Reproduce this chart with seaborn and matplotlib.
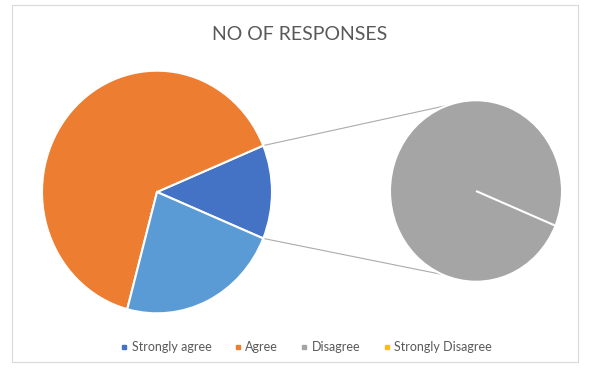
import matplotlib
matplotlib.use("Agg")
import matplotlib.pyplot as plt
import seaborn as sns
import numpy as np
from matplotlib.lines import Line2D
from matplotlib.patches import Rectangle

# ---- data ----
categories = ["Strongly agree", "Agree", "Disagree", "Strongly Disagree"]
responses = [6, 31, 11, 0]
colors = ["#4472C4", "#ED7D31", "#A5A5A5", "#FFC000"]
other_color = "#5B9BD5"
title = "NO OF RESPONSES"

sns.set_theme(style="white")
plt.rcParams['font.family'] = ['Lato', 'DejaVu Sans']

W, H = 589, 368
K = 1.055  # slight vertical stretch seen in the reference


def Y(ypx):
    return (H - ypx) / K


fig = plt.figure(figsize=(W / 100, H / 100), dpi=100)
ax = fig.add_axes([0, 0, 1, 1])

main_vals = responses[:2] + [sum(responses[2:])]
main_cols = colors[:2] + [other_color]
start = -22.5
c1 = (157, Y(192))
r1 = 115
c2 = (476, Y(191))
r2 = 86
wp = dict(edgecolor="white", linewidth=1.5)

ax.pie(main_vals, colors=main_cols, startangle=start, counterclock=True,
       center=c1, radius=r1, wedgeprops=wp, frame=True)
ax.pie(responses[2:], colors=colors[2:], startangle=start, counterclock=True,
       center=c2, radius=r2, wedgeprops=wp, frame=True)

# connector lines
frac = np.array(main_vals) / sum(main_vals)
a_top = np.deg2rad(start + 360 * frac[0])
a_bot = np.deg2rad(start)
s_top = np.deg2rad(109)
s_bot = np.deg2rad(-113)
for a, s in [(a_top, s_top), (a_bot, s_bot)]:
    ax.plot([c1[0] + r1 * np.cos(a), c2[0] + r2 * np.cos(s)],
            [c1[1] + r1 * np.sin(a), c2[1] + r2 * np.sin(s)],
            color="#ABABAB", lw=0.8, zorder=0)

ax.set_xlim(0, W)
ax.set_ylim(0, H / K)
ax.set_aspect("auto")
ax.axis("off")

# chart border
fig.patches.append(Rectangle((12 / W, 1 - 362 / H), (578 - 12) / W, (362 - 5) / H,
                             transform=fig.transFigure, fill=False,
                             edgecolor="#D9D9D9", lw=0.8))

fig.text(300 / W, 1 - 34 / H, title, ha="center", va="center",
         fontsize=14, color="#595959")

handles = [Line2D([], [], marker="s", linestyle="none", markersize=3,
                  color=c) for c in colors]
leg = fig.legend(handles, categories, loc="center", ncol=4, frameon=False,
                 bbox_to_anchor=(306 / W, 1 - 347 / H), fontsize=9,
                 handlelength=0.6, handletextpad=0.3, columnspacing=1.8)
for t in leg.get_texts():
    t.set_color("#595959")

fig.savefig("out.png", dpi=100, facecolor="white")
